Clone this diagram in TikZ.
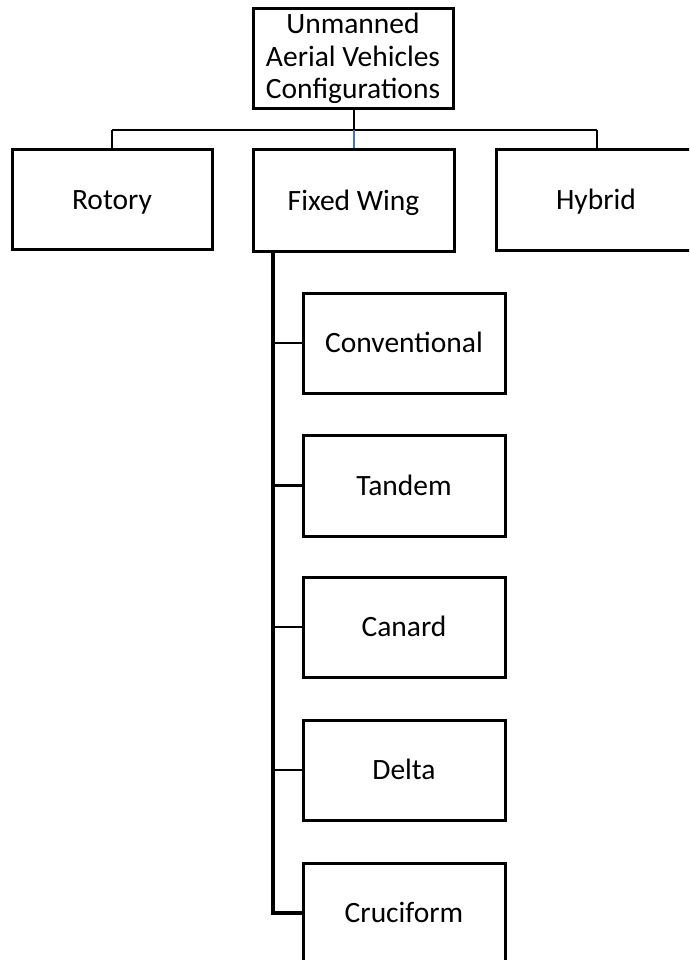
\documentclass[tikz,border=0pt]{standalone}
\usepackage{fontspec}
\setmainfont{Carlito}
\definecolor{linkblue}{RGB}{68,114,196}
\begin{document}
\begin{tikzpicture}[x=1pt,y=-1pt,
  box/.style={draw, line width=3pt, minimum width=200pt, minimum height=99pt,
              inner sep=0pt, align=center, font=\fontsize{29.5}{32.5}\selectfont},
  leaf/.style={box, text height=22pt, text depth=3pt},
  link/.style={line width=2.5pt},
  trunk/.style={line width=3.5pt}]
\useasboundingbox (0,0) rectangle (689,960);
\clip (0,0) rectangle (689,960);

% top level
\node[box, minimum height=100pt] (root) at (353,58.5) {Unmanned\\Aerial Vehicles\\Configurations};
\node[leaf] (rot) at (112,199.5) {Rotory};
\node[leaf, minimum width=201pt, minimum height=101pt] (fix) at (353.5,200.5) {Fixed Wing};
\node[leaf, minimum height=100pt] (hyb) at (596,200) {Hybrid};

% fixed-wing sub-types
\node[leaf, minimum width=202pt, minimum height=100pt] (conv) at (404,343) {Conventional};
\node[leaf, minimum width=202pt, minimum height=101pt] (tand) at (404,485.5) {Tandem};
\node[leaf, minimum width=202pt, minimum height=100pt] (can)  at (404,627) {Canard};
\node[leaf, minimum width=202pt, minimum height=100pt] (del)  at (404,770) {Delta};
\node[leaf, minimum width=202pt, minimum height=100pt] (cru)  at (404,913) {Cruciform};

% bus from the root
\coordinate (bus) at (354,130);
\coordinate (busL) at (112,130);
\coordinate (busR) at (597,130);
\draw[link] (root.south -| bus) -- (bus);
\draw[link] (busL) -- (busR);
\draw[link] (busL) -- (rot.north);
\draw[link] (busR) -- (hyb.north -| busR);
\draw[link, linkblue] (bus) -- (fix.north -| bus);

% trunk below Fixed Wing
\coordinate (tr) at (273,0);
\draw[trunk] (fix.south -| tr) |- (cru.west);
\foreach \n in {conv,tand,can,del}
  \draw[link] (\n.west -| tr) -- (\n.west);
\end{tikzpicture}
\end{document}
